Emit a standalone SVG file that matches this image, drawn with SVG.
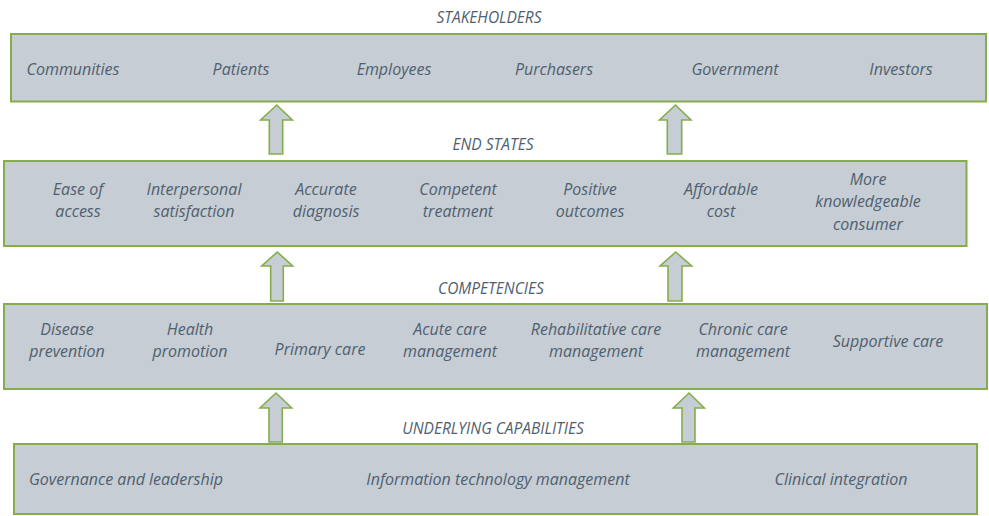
<svg xmlns="http://www.w3.org/2000/svg" width="989" height="516" viewBox="0 0 989 516">
<style>
.box{fill:#c6cdd4;stroke:#86ad4a;stroke-width:2}
.arr{fill:#c6cdd4;stroke:#86ad4a;stroke-width:1.6;stroke-linejoin:miter}
text{font-family:"Open Sans","Liberation Sans",sans-serif;font-style:italic;fill:#4f6070;text-anchor:middle}
.t{font-size:16px}
.h{font-size:15.5px}
</style>
<rect width="989" height="516" fill="#ffffff"/>
<g id="title-stakeholders"><text class="h" x="489" y="23">STAKEHOLDERS</text></g>
<g id="title-endstates"><text class="h" x="493" y="150">END STATES</text></g>
<g id="title-competencies"><text class="h" x="491" y="294">COMPETENCIES</text></g>
<g id="title-capabilities"><text class="h" x="493" y="434">UNDERLYING CAPABILITIES</text></g>

<g id="stakeholders">
<rect class="box" x="11" y="34" width="975" height="67.5"/>
<text class="t" x="73" y="75">Communities</text>
<text class="t" x="241" y="75">Patients</text>
<text class="t" x="394" y="75">Employees</text>
<text class="t" x="554" y="75">Purchasers</text>
<text class="t" x="735" y="75">Government</text>
<text class="t" x="901" y="75">Investors</text>
</g>

<g id="end-states">
<rect class="box" x="4" y="161" width="962.5" height="85"/>
<text class="t" x="78" y="195">Ease of</text><text class="t" x="78" y="217">access</text>
<text class="t" x="194" y="195">Interpersonal</text><text class="t" x="194" y="217">satisfaction</text>
<text class="t" x="326" y="195">Accurate</text><text class="t" x="326" y="217">diagnosis</text>
<text class="t" x="458" y="195">Competent</text><text class="t" x="458" y="217">treatment</text>
<text class="t" x="590" y="195">Positive</text><text class="t" x="590" y="217">outcomes</text>
<text class="t" x="721" y="195">Affordable</text><text class="t" x="721" y="217">cost</text>
<text class="t" x="868" y="185">More</text><text class="t" x="868" y="207">knowledgeable</text><text class="t" x="868" y="230">consumer</text>
</g>

<g id="competencies">
<rect class="box" x="4" y="304" width="983" height="85"/>
<text class="t" x="67" y="335">Disease</text><text class="t" x="67" y="357">prevention</text>
<text class="t" x="190" y="335">Health</text><text class="t" x="190" y="357">promotion</text>
<text class="t" x="320" y="355">Primary care</text>
<text class="t" x="450" y="335">Acute care</text><text class="t" x="450" y="357">management</text>
<text class="t" x="596" y="335">Rehabilitative care</text><text class="t" x="596" y="357">management</text>
<text class="t" x="743" y="335">Chronic care</text><text class="t" x="743" y="357">management</text>
<text class="t" x="888" y="347">Supportive care</text>
</g>

<g id="capabilities">
<rect class="box" x="14" y="444" width="963" height="70"/>
<text class="t" x="126" y="485">Governance and leadership</text>
<text class="t" x="498" y="485">Information technology management</text>
<text class="t" x="841" y="485">Clinical integration</text>
</g>

<g id="connectors">
<path class="arr" d="M276.7,105 L292.3,120 L282.7,120 L282.7,154 L269.3,154 L269.3,120 L260.7,120 Z"/>
<path class="arr" d="M675.5,105 L691,120 L681.7,120 L681.7,154 L667.3,154 L667.3,120 L659.5,120 Z"/>
<path class="arr" d="M277.3,252 L292.7,266 L283.3,266 L283.3,301 L270.7,301 L270.7,266 L261.7,266 Z"/>
<path class="arr" d="M675.7,252 L691.7,266 L682,266 L682,301 L668,301 L668,266 L660,266 Z"/>
<path class="arr" d="M276,393 L291.7,408 L282.3,408 L282.3,442 L269,442 L269,408 L260,408 Z"/>
<path class="arr" d="M689,393 L704.3,408 L695,408 L695,442 L682,442 L682,408 L673.3,408 Z"/>
</g>
</svg>
